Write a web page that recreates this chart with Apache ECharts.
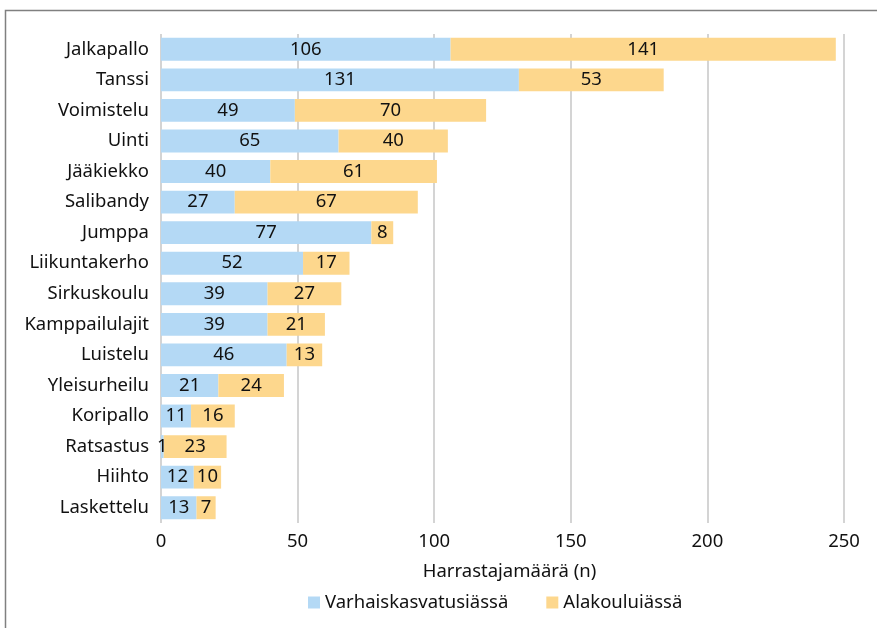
<!DOCTYPE html>
<html><head><meta charset="utf-8">
<script src="https://cdn.jsdelivr.net/npm/echarts@6/dist/echarts.min.js"></script>
<style>html,body{margin:0;padding:0;background:#fff}#c{width:877px;height:628px}</style>
</head><body><div id="c"></div>
<script>
const categories = ["Jalkapallo","Tanssi","Voimistelu","Uinti","Jääkiekko","Salibandy","Jumppa","Liikuntakerho","Sirkuskoulu","Kamppailulajit","Luistelu","Yleisurheilu","Koripallo","Ratsastus","Hiihto","Laskettelu"];
const varhaiskasvatus = [106,131,49,65,40,27,77,52,39,39,46,21,11,1,12,13];
const alakoulu = [141,53,70,40,61,67,8,17,27,21,13,24,16,23,10,7];
const xTicks = {min:0, max:250, interval:50};
const FONT = "Noto Sans";
const FS = 18.5;
const chart = echarts.init(document.getElementById('c'));
const lbl = {show:true, position:'inside', color:'#111', fontSize:FS, fontFamily:FONT};
chart.setOption({
  animation:false,
  graphic:[{type:'rect', shape:{x:5.5,y:10.5,width:1000,height:1000}, style:{fill:'none', stroke:'#808080', lineWidth:1.5}}],
  grid:{left:161, right:33, top:34, height:489, containLabel:false},
  xAxis:{type:'value', min:xTicks.min, max:xTicks.max, interval:xTicks.interval,
    name:'Harrastajamäärä (n)', nameLocation:'middle', nameGap:39,
    nameTextStyle:{color:'#111', fontSize:FS, fontFamily:FONT, padding:[0,0,0,14]},
    axisLabel:{color:'#111', fontSize:FS, fontFamily:FONT, margin:9},
    axisLine:{show:false}, axisTick:{show:false},
    splitLine:{show:true, lineStyle:{color:'#c6c6c6', width:1.5}}},
  yAxis:{type:'category', data:categories, inverse:true,
    axisLabel:{color:'#111', fontSize:FS, fontFamily:FONT, margin:12},
    axisLine:{show:false}, axisTick:{show:false}},
  legend:{bottom:11, left:303, itemWidth:12, itemHeight:12, itemGap:38,
    icon:'rect', textStyle:{color:'#111', fontSize:FS, fontFamily:FONT},
    data:['Varhaiskasvatusiässä','Alakouluiässä']},
  series:[
    {name:'Varhaiskasvatusiässä', type:'bar', stack:'a', data:varhaiskasvatus, barCategoryGap:'25%', itemStyle:{color:'#b4d9f5'}, label:lbl},
    {name:'Alakouluiässä', type:'bar', stack:'a', data:alakoulu, barCategoryGap:'25%', itemStyle:{color:'#fdd78d'}, label:lbl}
  ]
});
</script></body></html>
